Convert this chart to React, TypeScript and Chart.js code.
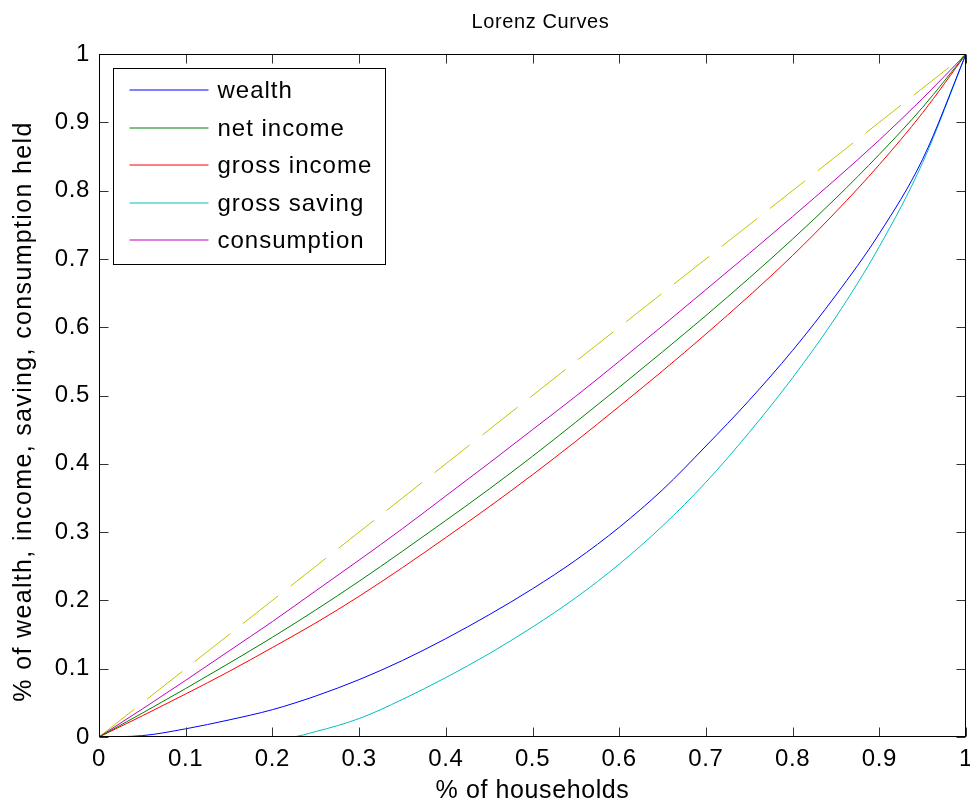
import React, { useEffect, useRef } from 'react';
import { Chart, registerables } from 'chart.js';

Chart.register(...registerables);

// ---- data ----
const householdShare = [0, 0.05, 0.1, 0.15, 0.2, 0.25, 0.3, 0.35, 0.4, 0.45, 0.5, 0.55, 0.6, 0.65, 0.7, 0.75, 0.8, 0.85, 0.9, 0.95, 1];
const wealth = [0, 0.002, 0.012, 0.025, 0.04, 0.06, 0.084, 0.112, 0.144, 0.179, 0.217, 0.259, 0.307, 0.362, 0.426, 0.493, 0.566, 0.647, 0.737, 0.846, 1];
const netIncome = [0, 0.035, 0.071, 0.108, 0.146, 0.186, 0.228, 0.272, 0.317, 0.363, 0.411, 0.461, 0.512, 0.564, 0.617, 0.672, 0.729, 0.789, 0.853, 0.922, 1];
const grossIncome = [0, 0.031, 0.063, 0.096, 0.131, 0.167, 0.206, 0.248, 0.292, 0.337, 0.384, 0.433, 0.484, 0.536, 0.59, 0.646, 0.705, 0.769, 0.838, 0.914, 1];
const grossSavingShare = [0, 0.22, 0.25, 0.3, 0.35, 0.4, 0.45, 0.5, 0.55, 0.6, 0.65, 0.7, 0.75, 0.8, 0.85, 0.9, 0.95, 1];
const grossSaving = [0, 0, 0.008, 0.027, 0.055, 0.087, 0.122, 0.161, 0.204, 0.253, 0.309, 0.373, 0.446, 0.526, 0.615, 0.718, 0.841, 1];
const consumption = [0, 0.041, 0.083, 0.126, 0.169, 0.214, 0.259, 0.305, 0.353, 0.401, 0.45, 0.499, 0.55, 0.602, 0.655, 0.708, 0.762, 0.817, 0.874, 0.935, 1];
const equalityShare = [0, 1];
const equalityLine = [0, 1];

const seriesLabels = ['wealth', 'net income', 'gross income', 'gross saving', 'consumption'];
const seriesColors = ['#0000ff', '#008000', '#ff0000', '#00bfbf', '#bf00bf'];
const equalityColor = '#c4c400';
const tickValues = [0, 0.1, 0.2, 0.3, 0.4, 0.5, 0.6, 0.7, 0.8, 0.9, 1];
const tickLabels = ['0', '0.1', '0.2', '0.3', '0.4', '0.5', '0.6', '0.7', '0.8', '0.9', '1'];
const chartTitle = 'Lorenz Curves';
const xTitle = '% of households';
const yTitle = '% of wealth, income, saving, consumption held';

const FONT = '"Liberation Sans", Arial, Helvetica, sans-serif';

const toPoints = (xs: number[], ys: number[]) => xs.map((x, i) => ({ x, y: ys[i] }));

const matlabFrame = {
  id: 'matlabFrame',
  beforeDraw(chart: any) {
    (chart.ctx as any).letterSpacing = '0.6px';
  },
  afterDatasetsDraw(chart: any) {
    const { ctx, chartArea: a, scales } = chart;
    const xs = scales.x;
    const ys = scales.y;
    ctx.save();
    ctx.lineWidth = 1;
    ctx.setLineDash([]);
    // inward ticks on all four sides
    ctx.strokeStyle = '#333333';
    ctx.beginPath();
    const L = Math.round(a.left) + 0.5;
    const R = Math.round(a.right) - 0.5;
    const T = Math.round(a.top) + 0.5;
    const B = Math.round(a.bottom) - 0.5;
    for (const v of tickValues) {
      const px = Math.round(xs.getPixelForValue(v)) + 0.5;
      ctx.moveTo(px, B);
      ctx.lineTo(px, B - 9);
      ctx.moveTo(px, T);
      ctx.lineTo(px, T + 9);
      const py = Math.round(ys.getPixelForValue(v)) + 0.5;
      ctx.moveTo(L, py);
      ctx.lineTo(L + 9, py);
      ctx.moveTo(R, py);
      ctx.lineTo(R - 9, py);
    }
    ctx.stroke();
    // box
    ctx.strokeStyle = '#000000';
    ctx.strokeRect(L, T, R - L, B - T);

    // title
    ctx.fillStyle = '#000000';
    ctx.font = `20px ${FONT}`;
    (ctx as any).letterSpacing = '0.6px';
    ctx.textAlign = 'center';
    ctx.textBaseline = 'middle';
    ctx.fillText(chartTitle, (a.left + a.right) / 2 + 8, 22);

    // y axis title
    ctx.save();
    ctx.translate(24, (a.top + a.bottom) / 2 + 16);
    ctx.rotate(-Math.PI / 2);
    ctx.font = `25px ${FONT}`;
    (ctx as any).letterSpacing = '1.35px';
    ctx.fillText(yTitle, 0, 0);
    ctx.restore();

    // legend
    const lx = L + 14;
    const ly = T + 14;
    const lw = 272;
    const lh = 196;
    ctx.fillStyle = '#ffffff';
    ctx.fillRect(lx, ly, lw, lh);
    ctx.strokeStyle = '#000000';
    ctx.strokeRect(lx, ly, lw, lh);
    ctx.font = `24px ${FONT}`;
    (ctx as any).letterSpacing = '1px';
    ctx.textBaseline = 'middle';
    ctx.textAlign = 'left';
    seriesLabels.forEach((label, i) => {
      const rowY = Math.round(ly + 21.5 + i * 37.5);
      ctx.strokeStyle = seriesColors[i];
      ctx.beginPath();
      ctx.moveTo(lx + 16, rowY);
      ctx.lineTo(lx + 95, rowY);
      ctx.stroke();
      ctx.fillStyle = '#000000';
      ctx.fillText(label, lx + 104, rowY + 1);
    });
    ctx.restore();
  },
};

export default function App() {
  const ref = useRef<HTMLCanvasElement | null>(null);

  useEffect(() => {
    if (!ref.current) return;
    const setTicks = (s: any) => {
      s.ticks = tickValues.map((v) => ({ value: v }));
    };
    const chart = new Chart(ref.current, {
      type: 'line',
      data: {
        datasets: [
          { label: seriesLabels[0], data: toPoints(householdShare, wealth), borderColor: seriesColors[0] },
          { label: seriesLabels[1], data: toPoints(householdShare, netIncome), borderColor: seriesColors[1] },
          { label: seriesLabels[2], data: toPoints(householdShare, grossIncome), borderColor: seriesColors[2] },
          { label: seriesLabels[3], data: toPoints(grossSavingShare, grossSaving), borderColor: seriesColors[3] },
          { label: seriesLabels[4], data: toPoints(householdShare, consumption), borderColor: seriesColors[4] },
          { label: 'equality', data: toPoints(equalityShare, equalityLine), borderColor: equalityColor, borderDash: [45, 16] },
        ],
      },
      options: {
        animation: false,
        responsive: false,
        devicePixelRatio: 1,
        layout: { padding: { left: 0, right: 4, top: 54, bottom: 0 } },
        elements: {
          point: { radius: 0 },
          line: { borderWidth: 1, cubicInterpolationMode: 'monotone', fill: false },
        },
        plugins: {
          legend: { display: false },
          tooltip: { enabled: false },
          title: { display: false },
        },
        scales: {
          x: {
            type: 'linear',
            position: 'bottom',
            min: 0,
            max: 1,
            afterBuildTicks: setTicks,
            ticks: {
              autoSkip: false,
              maxRotation: 0,
              padding: 8,
              color: '#000',
              font: { family: FONT, size: 24 },
              callback: (_v: any, i: number) => tickLabels[i],
            },
            grid: { display: false, drawTicks: false },
            border: { display: false },
            title: {
              display: true,
              text: xTitle,
              color: '#000',
              font: { family: FONT, size: 25, lineHeight: 1 },
              padding: { top: 0, bottom: 0 },
            },
            afterFit: (s: any) => {
              s.height = 67;
              s.paddingLeft = 0;
              s.paddingRight = 0;
            },
          },
          y: {
            type: 'linear',
            position: 'left',
            min: 0,
            max: 1,
            afterBuildTicks: setTicks,
            ticks: {
              autoSkip: false,
              padding: 9,
              color: '#000',
              font: { family: FONT, size: 24 },
              callback: (_v: any, i: number) => tickLabels[i],
            },
            grid: { display: false, drawTicks: false },
            border: { display: false },
            title: { display: false },
            afterFit: (s: any) => {
              s.width = 99;
              s.paddingTop = 0;
              s.paddingBottom = 0;
            },
          },
        },
      } as any,
      plugins: [matlabFrame],
    });
    return () => chart.destroy();
  }, []);

  return (
    <div style={{ position: 'absolute', left: 0, top: 0, width: 970, height: 804, background: '#fff' }}>
      <canvas ref={ref} width={970} height={804} style={{ display: 'block' }} />
    </div>
  );
}
